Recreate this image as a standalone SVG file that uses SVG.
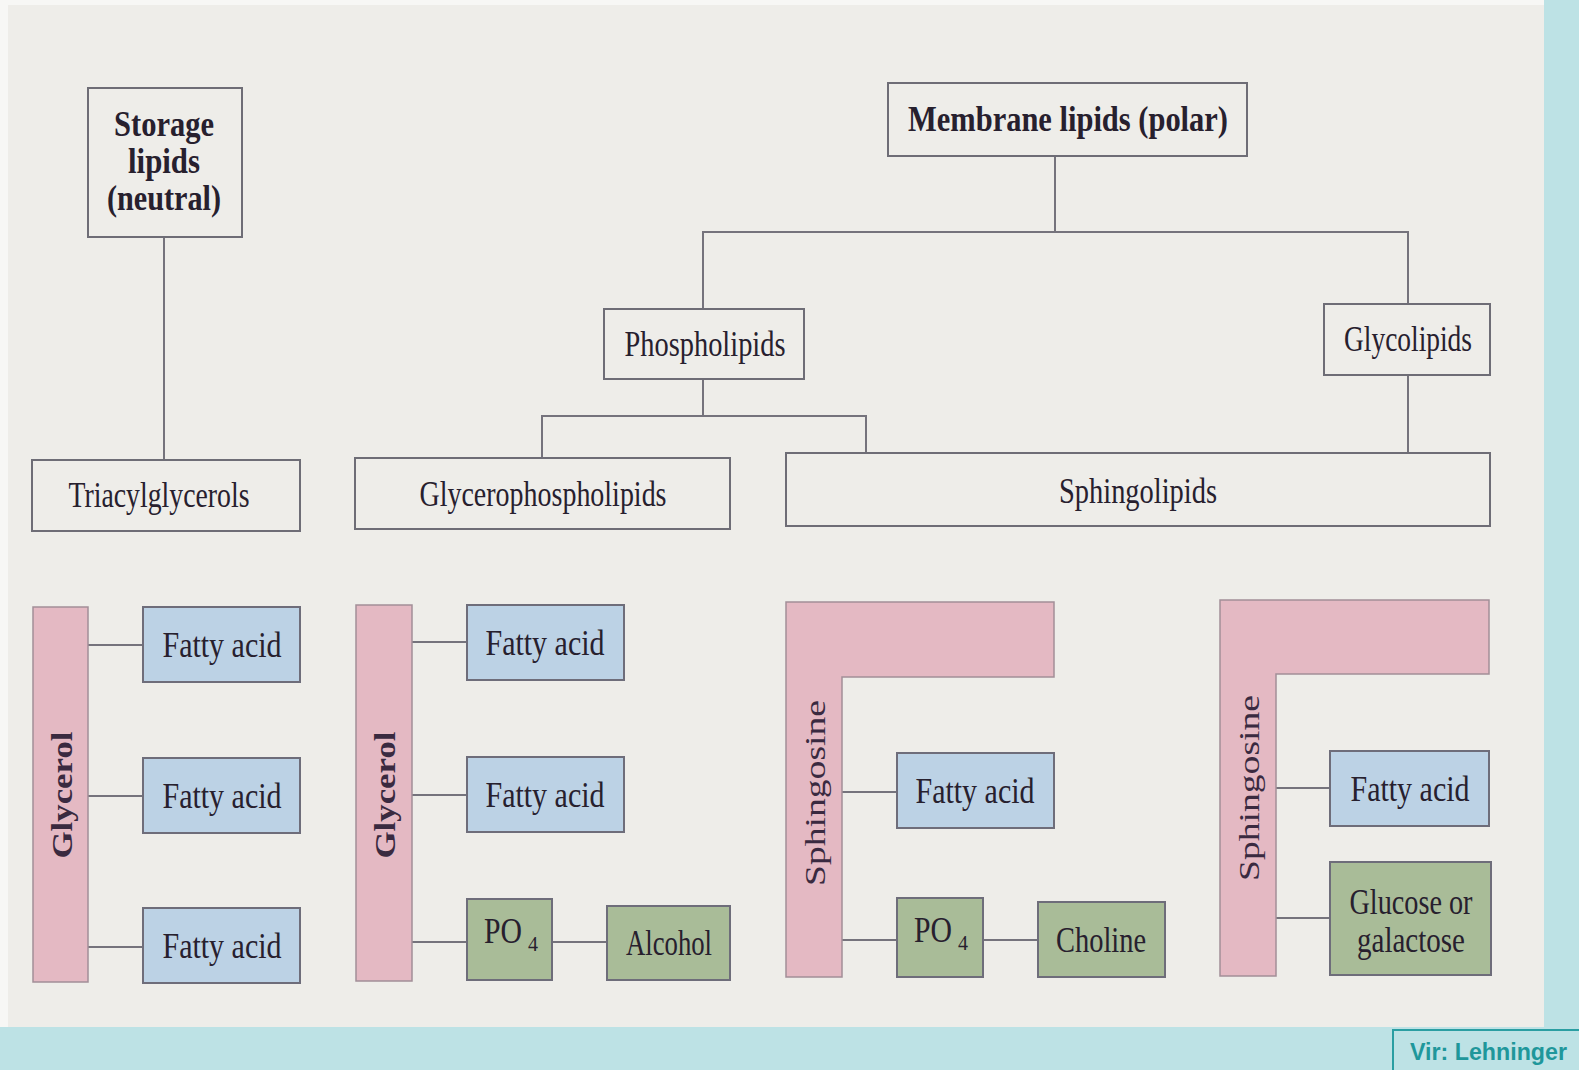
<svg xmlns="http://www.w3.org/2000/svg" width="1579" height="1070" viewBox="0 0 1579 1070">
<defs>
<style>
.paper{fill:#eeede9}
.teal{fill:#bde2e5}
.box{fill:#eeede9;stroke:#6e6d76;stroke-width:2}
.fa{fill:#bcd2e5;stroke:#6e6d7a;stroke-width:2}
.gr{fill:#a9bc98;stroke:#6e6d7a;stroke-width:2}
.pk{fill:#e4b9c3;stroke:#a28f98;stroke-width:1.5}
.ln{fill:none;stroke:#75737c;stroke-width:2}
.t{font-family:"Liberation Serif","Times New Roman",serif;font-size:35px;fill:#27202e;text-anchor:middle}
.s{font-family:"Liberation Serif","Times New Roman",serif;fill:#27202e}
.b{font-weight:bold}
.v{font-family:"Liberation Serif","Times New Roman",serif;font-size:30px;fill:#3a2a40;text-anchor:middle}
.vir{font-family:"Liberation Sans",Arial,sans-serif;font-size:23px;font-weight:bold;fill:#1f979b}
</style>
</defs>
<rect x="0" y="0" width="1579" height="1070" fill="#f7f7f5"/>
<rect class="teal" x="1544" y="0" width="35" height="1070"/>
<rect class="teal" x="0" y="1027" width="1579" height="43"/>
<rect class="paper" x="8" y="5" width="1536" height="1022"/>

<g id="connectors">
<line class="ln" x1="164" y1="237" x2="164" y2="460"/>
<polyline class="ln" points="1055,156 1055,232 703,232 703,309"/>
<polyline class="ln" points="1055,232 1408,232 1408,304"/>
<polyline class="ln" points="703,379 703,416 542,416 542,458"/>
<polyline class="ln" points="703,416 866,416 866,453"/>
<line class="ln" x1="1408" y1="375" x2="1408" y2="452"/>
<line class="ln" x1="88" y1="645" x2="143" y2="645"/>
<line class="ln" x1="88" y1="796" x2="143" y2="796"/>
<line class="ln" x1="88" y1="947" x2="143" y2="947"/>
<line class="ln" x1="412" y1="642" x2="467" y2="642"/>
<line class="ln" x1="412" y1="795" x2="467" y2="795"/>
<line class="ln" x1="412" y1="942" x2="467" y2="942"/>
<line class="ln" x1="552" y1="942" x2="607" y2="942"/>
<line class="ln" x1="842" y1="792" x2="897" y2="792"/>
<line class="ln" x1="842" y1="940" x2="897" y2="940"/>
<line class="ln" x1="983" y1="940" x2="1038" y2="940"/>
<line class="ln" x1="1276" y1="788" x2="1330" y2="788"/>
<line class="ln" x1="1276" y1="918" x2="1330" y2="918"/>
</g>

<g id="storage-lipids">
<rect class="box" x="88" y="88" width="154" height="149"/>
<text class="t b" x="164" y="136" textLength="100" lengthAdjust="spacingAndGlyphs">Storage</text>
<text class="t b" x="164" y="173" textLength="72" lengthAdjust="spacingAndGlyphs">lipids</text>
<text class="t b" x="164" y="210" textLength="114" lengthAdjust="spacingAndGlyphs">(neutral)</text>
</g>
<g id="membrane-lipids">
<rect class="box" x="888" y="83" width="359" height="73"/>
<text class="t b" x="1068" y="131" textLength="320" lengthAdjust="spacingAndGlyphs">Membrane lipids (polar)</text>
</g>
<g id="phospholipids">
<rect class="box" x="604" y="309" width="200" height="70"/>
<text class="t" x="705" y="356" textLength="161" lengthAdjust="spacingAndGlyphs">Phospholipids</text>
</g>
<g id="glycolipids">
<rect class="box" x="1324" y="304" width="166" height="71"/>
<text class="t" x="1408" y="351" textLength="128" lengthAdjust="spacingAndGlyphs">Glycolipids</text>
</g>
<g id="triacylglycerols">
<rect class="box" x="32" y="460" width="268" height="71"/>
<text class="t" x="159" y="507" textLength="181" lengthAdjust="spacingAndGlyphs">Triacylglycerols</text>
</g>
<g id="glycerophospholipids">
<rect class="box" x="355" y="458" width="375" height="71"/>
<text class="t" x="543" y="506" textLength="247" lengthAdjust="spacingAndGlyphs">Glycerophospholipids</text>
</g>
<g id="sphingolipids">
<rect class="box" x="786" y="453" width="704" height="73"/>
<text class="t" x="1138" y="503" textLength="158" lengthAdjust="spacingAndGlyphs">Sphingolipids</text>
</g>

<g id="triacylglycerol-structure">
<g id="glycerol-1">
<rect class="pk" x="33" y="607" width="55" height="375"/>
<text class="v b" transform="translate(61,795) rotate(-90)" x="0" y="11" textLength="127" lengthAdjust="spacingAndGlyphs">Glycerol</text>
</g>
<g id="fa-1a"><rect class="fa" x="143" y="607" width="157" height="75"/><text class="t" x="222" y="657" textLength="119" lengthAdjust="spacingAndGlyphs">Fatty acid</text></g>
<g id="fa-1b"><rect class="fa" x="143" y="758" width="157" height="75"/><text class="t" x="222" y="808" textLength="119" lengthAdjust="spacingAndGlyphs">Fatty acid</text></g>
<g id="fa-1c"><rect class="fa" x="143" y="908" width="157" height="75"/><text class="t" x="222" y="958" textLength="119" lengthAdjust="spacingAndGlyphs">Fatty acid</text></g>
</g>

<g id="glycerophospholipid-structure">
<g id="glycerol-2">
<rect class="pk" x="356" y="605" width="56" height="376"/>
<text class="v b" transform="translate(384,795) rotate(-90)" x="0" y="11" textLength="127" lengthAdjust="spacingAndGlyphs">Glycerol</text>
</g>
<g id="fa-2a"><rect class="fa" x="467" y="605" width="157" height="75"/><text class="t" x="545" y="655" textLength="119" lengthAdjust="spacingAndGlyphs">Fatty acid</text></g>
<g id="fa-2b"><rect class="fa" x="467" y="757" width="157" height="75"/><text class="t" x="545" y="807" textLength="119" lengthAdjust="spacingAndGlyphs">Fatty acid</text></g>
<g id="po4-2"><rect class="gr" x="467" y="899" width="85" height="81"/>
<text class="s" x="484" y="943" font-size="35" textLength="38" lengthAdjust="spacingAndGlyphs">PO</text>
<text class="s" x="528" y="951" font-size="20">4</text></g>
<g id="alcohol"><rect class="gr" x="607" y="906" width="123" height="74"/><text class="t" x="669" y="955" textLength="86" lengthAdjust="spacingAndGlyphs">Alcohol</text></g>
</g>

<g id="sphingomyelin-structure">
<g id="sphingosine-1">
<path class="pk" d="M786,602 H1054 V677 H842 V977 H786 Z"/>
<text class="v" transform="translate(814,793) rotate(-90)" x="0" y="11" textLength="186" lengthAdjust="spacingAndGlyphs">Sphingosine</text>
</g>
<g id="fa-3"><rect class="fa" x="897" y="753" width="157" height="75"/><text class="t" x="975" y="803" textLength="119" lengthAdjust="spacingAndGlyphs">Fatty acid</text></g>
<g id="po4-3"><rect class="gr" x="897" y="898" width="86" height="79"/>
<text class="s" x="914" y="942" font-size="35" textLength="38" lengthAdjust="spacingAndGlyphs">PO</text>
<text class="s" x="958" y="950" font-size="20">4</text></g>
<g id="choline"><rect class="gr" x="1038" y="902" width="127" height="75"/><text class="t" x="1101" y="952" textLength="90" lengthAdjust="spacingAndGlyphs">Choline</text></g>
</g>

<g id="glycolipid-structure">
<g id="sphingosine-2">
<path class="pk" d="M1220,600 H1489 V674 H1276 V976 H1220 Z"/>
<text class="v" transform="translate(1248,788) rotate(-90)" x="0" y="11" textLength="186" lengthAdjust="spacingAndGlyphs">Sphingosine</text>
</g>
<g id="fa-4"><rect class="fa" x="1330" y="751" width="159" height="75"/><text class="t" x="1410" y="801" textLength="119" lengthAdjust="spacingAndGlyphs">Fatty acid</text></g>
<g id="sugar"><rect class="gr" x="1330" y="862" width="161" height="113"/>
<text class="t" x="1411" y="914" textLength="123" lengthAdjust="spacingAndGlyphs">Glucose or</text>
<text class="t" x="1411" y="952" textLength="108" lengthAdjust="spacingAndGlyphs">galactose</text></g>
</g>

<g id="source">
<rect x="1393" y="1030" width="190" height="44" fill="#bde2e5" stroke="#2a9ea2" stroke-width="2"/>
<text class="vir" x="1410" y="1060" textLength="157" lengthAdjust="spacingAndGlyphs">Vir: Lehninger</text>
</g>
</svg>
